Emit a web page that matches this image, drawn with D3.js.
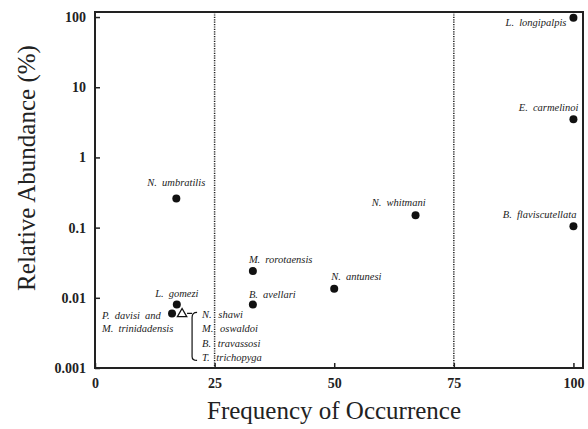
<!DOCTYPE html>
<html lang="en">
<head>
<meta charset="utf-8">
<script src="https://d3js.org/d3.v7.min.js"></script>
<style>
  body { margin: 0; background: #fff; }
  svg text { font-family: "Liberation Serif", "DejaVu Serif", serif; }
  .tick text { font-weight: bold; font-size: 14px; fill: #222; }
  .lab { font-style: italic; font-size: 10.5px; fill: #222; word-spacing: 2.5px; }
</style>
</head>
<body>
<script>
// species data
var species = ["L. longipalpis", "E. carmelinoi", "B. flaviscutellata", "N. whitmani",
  "M. rorotaensis", "N. antunesi", "B. avellari", "N. umbratilis", "L. gomezi", "P. davisi"];
var frequency = [100, 100, 100, 67, 33, 50, 33, 17, 17.1, 16.1];
var abundance = [98, 3.5, 0.105, 0.15, 0.024, 0.0135, 0.008, 0.26, 0.008, 0.006];

// open triangle group (several species share one point)
var groupNames = ["N. shawi", "M. oswaldoi", "B. travassosi", "T. trichopyga"];
var groupFreq = 18.2, groupAbund = 0.006;

var xTicks = [0, 25, 50, 75, 100];
var yTicks = [0.001, 0.01, 0.1, 1, 10, 100];
var dividers = [25, 75];

// label offsets from each dot (layout only)
var labelPos = {
  "L. longipalpis": [-7, 5, "end"],
  "E. carmelinoi": [5, -12, "end"],
  "B. flaviscutellata": [3, -12, "end"],
  "N. whitmani": [10, -13, "end"],
  "M. rorotaensis": [-4, -12, "start"],
  "N. antunesi": [-3, -12, "start"],
  "B. avellari": [-4, -10, "start"],
  "N. umbratilis": [0, -16, "middle"],
  "L. gomezi": [0, -11, "middle"]
};

var margin = {top: 12, left: 95, bottom: 61, right: 5},
    width = 588 - margin.left - margin.right,
    height = 429 - margin.top - margin.bottom;

var x = d3.scaleLinear().domain([0, 102]).range([0, width]);
var y = d3.scaleLog().domain([0.001, 118]).range([height, 0]);

var svg = d3.select("body").append("svg")
    .attr("width", 588).attr("height", 429)
    .attr("font-family", "'Liberation Serif', 'DejaVu Serif', serif")
  .append("g")
    .attr("transform", "translate(" + [margin.left, margin.top] + ")");

// dotted dividers
svg.selectAll(".div").data(dividers).enter().append("line")
  .attr("x1", function(d){ return x(d); }).attr("x2", function(d){ return x(d); })
  .attr("y1", 0).attr("y2", height)
  .attr("stroke", "#222").attr("stroke-width", 1.5).attr("stroke-dasharray", "1.2,1.2");

// axes with inward ticks
var fmt = function(d){ return d3.format("~g")(d); };
svg.append("g")
  .call(d3.axisLeft(y).tickValues(yTicks).tickFormat(fmt).tickSizeInner(-5).tickSizeOuter(0).tickPadding(9))
  .call(function(g){ g.attr("font-family", null); g.select(".domain").remove(); g.selectAll("line").attr("stroke", "#222").attr("stroke-width", 1.5); });

svg.append("g")
  .attr("transform", "translate(0," + height + ")")
  .call(d3.axisBottom(x).tickValues(xTicks).tickSizeInner(-5).tickSizeOuter(0).tickPadding(10))
  .call(function(g){ g.attr("font-family", null); g.select(".domain").remove(); g.selectAll("line").attr("stroke", "#222").attr("stroke-width", 1.5); });

// frame
svg.append("rect").attr("x", 0).attr("y", 0).attr("width", width).attr("height", height)
  .attr("fill", "none").attr("stroke", "#222").attr("stroke-width", 2);

// dots
svg.selectAll(".dot").data(species).enter().append("circle")
  .attr("cx", function(d, i){ return x(frequency[i]); })
  .attr("cy", function(d, i){ return y(abundance[i]); })
  .attr("r", 4).attr("fill", "#111");

// labels
species.forEach(function(s, i) {
  var p = labelPos[s];
  if (!p) return;
  svg.append("text").attr("class", "lab")
    .attr("x", x(frequency[i]) + p[0]).attr("y", y(abundance[i]) + p[1])
    .attr("dy", "0.35em").attr("text-anchor", p[2]).text(s);
});

// P. davisi two-line label
var pi = species.indexOf("P. davisi");
var px = x(frequency[pi]) - 70, py = y(abundance[pi]);
svg.append("text").attr("class", "lab").attr("x", px).attr("y", py + 2).attr("dy", "0.35em")
  .text("P. davisi and");
svg.append("text").attr("class", "lab").attr("x", px).attr("y", py + 15).attr("dy", "0.35em")
  .text("M. trinidadensis");

// triangle + brace
var tx = x(groupFreq), ty = y(groupAbund);
svg.append("path").attr("d", d3.symbol().type(d3.symbolTriangle).size(38)())
  .attr("transform", "translate(" + [tx, ty + 0.5] + ")")
  .attr("fill", "#fff").attr("stroke", "#111").attr("stroke-width", 1.3);
var bx = tx + 10;
svg.append("path")
  .attr("d", "M" + (tx + 5) + "," + ty + "H" + bx +
    "M" + (bx + 5) + "," + (ty - 1) + "Q" + bx + "," + (ty - 1) + " " + bx + "," + (ty + 4) +
    "V" + (ty + 43) + "Q" + bx + "," + (ty + 47) + " " + (bx + 5) + "," + (ty + 47))
  .attr("fill", "none").attr("stroke", "#111").attr("stroke-width", 1.2);
svg.selectAll(".grp").data(groupNames).enter().append("text").attr("class", "lab")
  .attr("x", bx + 10).attr("y", function(d, i){ return ty + 1 + i * 14.3; })
  .attr("dy", "0.35em").style("word-spacing", "4px").text(function(d){ return d; });

// axis titles
svg.append("text").attr("x", width / 2 - 5).attr("y", height + 51)
  .attr("text-anchor", "middle").attr("font-size", 25).attr("fill", "#222")
  .text("Frequency of Occurrence");
svg.append("text").attr("transform", "translate(" + (-60) + "," + (height / 2 - 22) + ") rotate(-90)")
  .attr("text-anchor", "middle").attr("font-size", 25).attr("fill", "#222")
  .text("Relative Abundance (%)");
</script>
</body>
</html>
